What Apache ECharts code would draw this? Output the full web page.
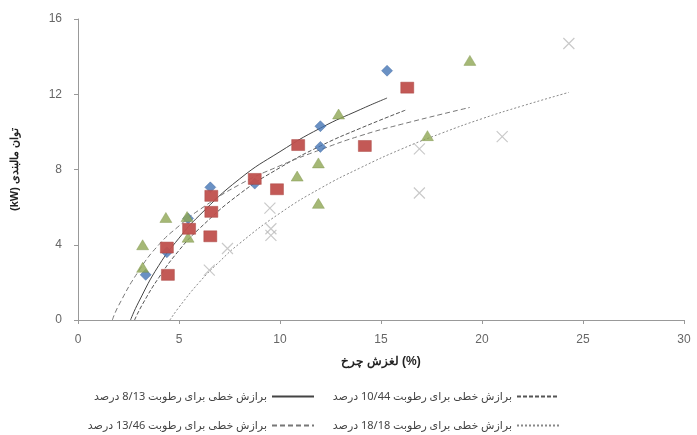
<!DOCTYPE html>
<html>
<head>
<meta charset="utf-8">
<script src="https://cdn.jsdelivr.net/npm/echarts@6/dist/echarts.min.js"></script>
<style>
  html, body { margin: 0; padding: 0; background: #fff; }
  #chart { width: 697px; height: 435px; }
</style>
</head>
<body>
<div id="chart"></div>
<script>
// measured points, [slip %, power kW]
var pts813 = [[3.35, 2.4], [4.4, 3.6], [5.45, 5.4], [6.55, 7.05], [8.75, 7.25], [12.0, 10.3], [12.0, 9.2], [15.3, 13.25]];
var pts1044 = [[4.45, 2.4], [4.4, 3.85], [5.5, 4.85], [6.6, 6.6], [6.6, 5.75], [6.55, 4.45], [8.75, 7.5], [9.85, 6.95], [10.9, 9.3], [14.2, 9.25], [16.3, 12.35]];
var pts1346 = [[3.2, 2.8], [3.2, 4.0], [4.35, 5.45], [5.4, 5.5], [5.45, 4.4], [10.85, 7.65], [11.9, 8.35], [11.9, 6.2], [12.9, 10.95], [17.3, 9.8], [19.4, 13.8]];
var pts1818 = [[6.5, 2.65], [7.4, 3.8], [9.5, 5.95], [9.55, 4.85], [9.55, 4.5], [16.9, 9.1], [16.9, 6.75], [21.0, 9.75], [24.3, 14.7]];

// points
var fit813 = [[2.6, 0], [3, 0.95], [4, 2.9], [5, 4.35], [6, 5.55], [8, 7.5], [10, 8.95], [12, 10.2], [14, 11.2], [15.3, 11.8]];
var fit1044 = [[2.8, 0], [3.2, 0.85], [4, 2.25], [5, 3.7], [6, 4.85], [8, 6.7], [10, 8.1], [12, 9.25], [14, 10.2], [16.2, 11.15]];
var fit1346 = [[1.7, 0], [2, 0.75], [3, 2.6], [4, 4.0], [5, 5.0], [6, 5.85], [8, 7.2], [10, 8.2], [12, 9.05], [14, 9.8], [16, 10.4], [19.4, 11.3]];
var fit1818 = [[4.55, 0], [5, 0.68], [6, 2.0], [7, 3.1], [8, 4.07], [10, 5.68], [12, 7.0], [14, 8.1], [16, 9.08], [18, 9.93], [20, 10.7], [22, 11.38], [24.3, 12.1]];

var fitNames = [
  'برازش خطی برای رطوبت 8/13 درصد',
  'برازش خطی برای رطوبت 10/44 درصد',
  'برازش خطی برای رطوبت 13/46 درصد',
  'برازش خطی برای رطوبت 18/18 درصد'
];

var xTicks = { min: 0, max: 30, interval: 5 };
var yTicks = { min: 0, max: 16, interval: 4 };

var chart = echarts.init(document.getElementById('chart'));

function fitLine(name, data, type, color) {
  return {
    name: name,
    type: 'line',
    data: data,
    smooth: true,
    showSymbol: false,
    symbol: 'none',
    silent: true,
    z: 1,
    color: color,
    lineStyle: { color: color, width: 1, type: type }
  };
}

// one legend per item, placed by its right edge (icon sits right of the text)
function legendItem(name, right, top) {
  return {
    data: [name],
    right: right, top: top,
    align: 'right',
    itemWidth: 42, itemHeight: 8,
    itemStyle: { opacity: 0 },
    textStyle: { fontSize: 11, color: '#444', fontFamily: 'Noto Sans, DejaVu Sans, sans-serif' }
  };
}

var option = {
  animation: false,
  backgroundColor: '#fff',
  grid: { left: 78, top: 19, right: 13, bottom: 115 },
  legend: [
    legendItem(fitNames[0], 377, 386),
    legendItem(fitNames[1], 132, 386),
    legendItem(fitNames[2], 377, 415),
    legendItem(fitNames[3], 132, 415)
  ],
  xAxis: {
    type: 'value',
    min: xTicks.min, max: xTicks.max, interval: xTicks.interval,
    name: 'لغزش چرخ (%)',
    nameLocation: 'middle',
    nameGap: 36,
    nameTextStyle: { fontSize: 12, fontWeight: 'bold', color: '#222' },
    axisLine: { lineStyle: { color: '#999' } },
    axisTick: { show: true, length: 4, lineStyle: { color: '#999' } },
    axisLabel: { fontSize: 12, color: '#666', margin: 14 },
    splitLine: { show: false }
  },
  yAxis: {
    type: 'value',
    min: yTicks.min, max: yTicks.max, interval: yTicks.interval,
    name: '(kW) توان مالبندی',
    nameLocation: 'middle',
    nameGap: 58,
    nameRotate: 90,
    nameTextStyle: { fontSize: 11, fontWeight: 'bold', color: '#222' },
    axisLine: { show: true, lineStyle: { color: '#999' } },
    axisTick: { show: true, length: 4, lineStyle: { color: '#999' } },
    axisLabel: { fontSize: 12, color: '#666', margin: 16 },
    splitLine: { show: false }
  },
  series: [
    {
      name: 'pts813', type: 'scatter', data: pts813, z: 3,
      symbol: 'diamond', symbolSize: [11, 11],
      itemStyle: { color: '#4576b5', borderColor: '#35609a', borderWidth: 0.5 }
    },
    {
      name: 'pts1044', type: 'scatter', data: pts1044, z: 4,
      symbol: 'rect', symbolSize: [13, 11],
      itemStyle: { color: '#c0504d', borderColor: '#a84542', borderWidth: 0.5, opacity: 0.95 }
    },
    {
      name: 'pts1346', type: 'scatter', data: pts1346, z: 3,
      symbol: 'triangle', symbolSize: [12, 10],
      itemStyle: { color: '#8ea654', borderColor: '#7a9146', borderWidth: 0.5 }
    },
    {
      name: 'pts1818', type: 'scatter', data: pts1818, z: 3,
      symbol: 'path://M0,0L10,10M10,0L0,10', symbolSize: [11, 11],
      itemStyle: { color: 'transparent', borderColor: '#bbbbbb', borderWidth: 1.2 }
    },
    fitLine(fitNames[0], fit813, 'solid', '#444'),
    fitLine(fitNames[1], fit1044, [4, 2], '#555'),
    fitLine(fitNames[2], fit1346, [5, 3], '#777'),
    fitLine(fitNames[3], fit1818, [2, 2], '#888')
  ]
};

chart.setOption(option);
</script>
</body>
</html>
